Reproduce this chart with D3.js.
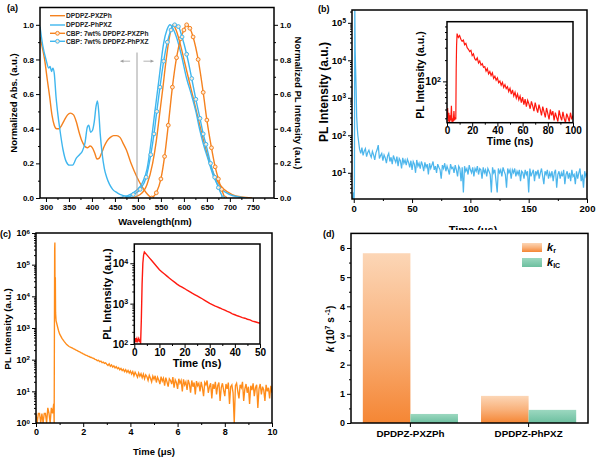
<!DOCTYPE html>
<html><head><meta charset="utf-8">
<script src="https://cdn.jsdelivr.net/npm/d3@7"></script>
<style>
body{margin:0;background:#fff}
svg{display:block}
</style></head><body>
<script>
// ================= DATA =================
// (a) absorption (left axis) and PL (right axis) — wavelength in nm, normalised values
const absPXZPhNm  = [287,292,297,303,308,313,318,323,328,334,340,347,353,360,366,372,378,384,390,396,401,406,411,416,421,427,433,440,447,454,461,467,475,485,498,508,518,525,532];
const absPXZPhVal = [0.93,0.87,0.80,0.68,0.585,0.48,0.42,0.40,0.40,0.42,0.45,0.48,0.49,0.48,0.44,0.38,0.33,0.30,0.29,0.30,0.29,0.26,0.225,0.23,0.26,0.30,0.33,0.35,0.36,0.36,0.35,0.32,0.277,0.20,0.12,0.07,0.03,0.01,0.0];
const absPhPXZNm  = [287,293,300,306,309,312,315,318,322,326,330,337,344,351,358,366,373,379,385,390,393,397,401,405,409,412,415,418,422,427,432,438,445,455,467,480,492];
const absPhPXZVal = [0.99,0.88,0.80,0.75,0.76,0.73,0.75,0.72,0.58,0.48,0.40,0.28,0.21,0.19,0.19,0.23,0.25,0.27,0.32,0.41,0.42,0.38,0.39,0.44,0.53,0.56,0.49,0.37,0.26,0.17,0.12,0.08,0.05,0.03,0.015,0.008,0.0];
const plPXZPhNm   = [485,505,520,532,540,547,554,561,568,576,583,591,601,611,621,631,640,649,660,672,687,705,725,748];
const plPXZPhVal  = [0,0.02,0.08,0.2,0.33,0.48,0.63,0.79,0.92,1.0,0.97,0.9,0.79,0.68,0.57,0.46,0.36,0.27,0.17,0.1,0.05,0.02,0.006,0];
const plPhPXZNm   = [455,475,495,510,520,528,537,546,556,563,570,576,585,595,606,616,626,634,642,653,665,682,700,720,735];
const plPhPXZVal  = [0,0.01,0.04,0.09,0.17,0.31,0.5,0.69,0.895,0.97,1.0,0.98,0.92,0.82,0.69,0.6,0.5,0.4,0.315,0.22,0.12,0.05,0.02,0.006,0];
const filmPXZPhNm  = [530,540,550,558,566,575,584,593,600,606,613,620,631,642,650,660,668,675,682,689];
const filmPXZPhVal = [0,0.03,0.11,0.24,0.42,0.64,0.81,0.92,0.97,1.0,0.98,0.93,0.8,0.61,0.45,0.29,0.18,0.11,0.05,0];
const filmPhPXZNm  = [470,490,505,518,528,535,541,548,556,564,572,580,588,596,606,617,626,635,642,648,658,667,675,685];
const filmPhPXZVal = [0,0.02,0.05,0.12,0.25,0.37,0.5,0.64,0.79,0.9,0.97,1.0,0.99,0.93,0.83,0.69,0.57,0.46,0.37,0.31,0.2,0.12,0.06,0];
const legendA = ["DPDPZ-PXZPh","DPDPZ-PhPXZ","CBP: 7wt% DPDPZ-PXZPh","CBP: 7wt% DPDPZ-PhPXZ"];
const aXTicks = [300,350,400,450,500,550,600,650,700,750];
const aYTicks = [0,0.2,0.4,0.6,0.8,1.0];

// (b) transient PL, μs (main) and ns (inset)
const bSpikeT = [-1,0,0.3,0.6,0.9,1.2,1.6,2.0,2.5,3.0,3.5,4.0,4.5];
const bSpikeI = [2,3,2,6,3e5,2e4,6e3,2e3,320,160,100,75,56];
const bNoiseStart = 5, bNoiseStep = 1;
const bNoiseI = [42,33,47,29,38,44,27,35,40,31, 26,37,30,22,34,41,55,24,29,33, 21,30,25,18,28,33,20,26,17,29,
  23,19,27,15,24,21,13,25,18,22, 16,23,19,14,21,12,20,17,10,22, 15,18,13,20,16,11,19,14,17,9,
  18,13,16,20,12,15,10,17,14,12, 7,16,13,18,11,15,12,9,17,13, 14,10,16,12,8,15,13,6,14,3,
  15,11,13,9,16,12,10,14,8,13, 11,15,9,13,12,7,14,10,12,8, 13,11,9,3,14,10,12,6,3,13,
  10,12,8,14,11,9,4,13,10,12, 7,12,10,13,8,11,9,12,6,11, 10,7,12,9,11,3,13,8,10,12,
  6,11,9,12,7,10,13,8,5,11, 9,12,7,10,8,11,6,10,12,4, 9,11,7,10,8,12,5,9,11,7,
  10,6,12,8,9,5,11,7,10,13, 6,9,4,11,8,10];
const bXTicks = [0,50,100,150,200];
const bYTicks = [10,100,1000,10000,100000];
const ibPreStart = 0, ibPreStep = 0.5;
const ibPreI = [30,42,27,36,26,33,28,45,26,30,27,38,28,31,29];
const ibRiseT = [7.3,7.6];
const ibRiseI = [150,320];
const ibDecayStart = 8, ibDecayStep = 1;
const ibDecayI = [475,420,445,395,370,385,330,345,300,285, 265,275,232,245,210,200,215,182,195,170,
  178,158,162,140,152,128,138,121,132,110, 118,104,112,96,101,88,97,82,90,79, 84,72,80,66,76,62,70,58,66,55,
  62,50,60,47,56,44,54,48,41,52, 45,38,50,42,36,47,40,33,44,37, 31,42,35,29,40,33,38,28,36,31,
  27,39,32,28,37,30,26,35,31,27, 36,29,33];
const ibXTicks = [0,20,40,60,80,100];
const ibYTicks = [100];

// (c) transient PL, μs (main) and ns (inset)
const cPreStart = 0, cPreStep = 0.05;
const cPreI = [2,1,2,2,1,2,1,2,2,1,3,2,1,3,2,4];
const cSpikeT = [0.77,0.79,0.80,0.81,0.82,0.83,0.85,0.9,0.95,1.0,1.1,1.2,1.3,1.4];
const cSpikeI = [1,3e5,5e5,2e3,4e4,3e3,1700,1200,850,650,470,370,300,260];
const cNoiseStart = 1.5, cNoiseStep = 0.05;
const cNoiseI = [240,230,218,210,199,193,183,177,167,161, 152,147,139,136,129,126,119,117,111,109,
  102,100,93,96,86,90,80,84,76,79, 72,66,74,62,68,58,64,55,60,52, 56,48,53,45,50,42,48,40,46,38,
  44,35,42,31,40,34,28,38,30,36, 27,35,25,33,29,22,32,26,20,30, 24,31,19,28,23,17,29,21,26,15,
  27,20,14,25,22,17,28,13,23,19, 12,25,18,22,10,24,16,20,11,23, 17,9,22,14,19,8,21,15,18,10,
  20,13,7,19,16,22,9,14,18,6, 17,12,20,8,15,19,5,13,18,11, 7,17,12,19,4,14,16,9,1,15,
  18,10,6,16,13,20,5,12,17,9, 14,4,15,11,18,7,13,16,3,12, 17,8,14,11,5,16,10,13,6,15, 9];
const cXTicks = [0,2,4,6,8,10];
const cYTicks = [1,10,100,1000,10000,100000,1000000];
const icPreStart = 0, icPreStep = 0.25;
const icPreI = [130,118,140,122,135,110,128,138,120,125];
const icRiseT = [2.5,2.8,3.1,3.4,3.7];
const icRiseI = [100,400,3000,10000,16000];
const icDecayStart = 4, icDecayStep = 1;
const icDecayI = [19000,16100,13600,11500,9700,8200,6900,6100,5400,4800,4250,3800,3400,3050,2750,2550,2370,2150,1980,1820,1680,1550,1430,1320,1210,1110,1010,950,885,830,780,730,690,640,605,560,530,500,475,450,435,410,395,370,355,340,325];
const icXTicks = [0,10,20,30,40,50];
const icYTicks = [100,1000,10000];

// (d) rate constants (10^7 s^-1)
const dCategories = ["DPDPZ-PXZPh","DPDPZ-PhPXZ"];
const dSeries = ["kr","kIC"];
const dKr  = [5.82,0.93];
const dKic = [0.31,0.45];
const dYTicks = [0,1,2,3,4,5,6];

// ================= DRAW =================
const F = '"Liberation Sans", Arial, Helvetica, sans-serif';
const ORANGE = "#f5821f", BLUE = "#3fb6ee", RED = "#ff1a10";
const svg = d3.select("body").append("svg").attr("width",600).attr("height",460)
  .style("font-family",F).style("font-weight","bold");
const defs = svg.append("defs");
function clip(id,x0,y0,x1,y1){defs.append("clipPath").attr("id",id).append("rect")
  .attr("x",x0).attr("y",y0).attr("width",x1-x0).attr("height",y1-y0);return `url(#${id})`;}
function frame(g,x0,y0,x1,y1){g.append("rect").attr("x",x0).attr("y",y0).attr("width",x1-x0).attr("height",y1-y0)
  .attr("fill","none").attr("stroke","#000").attr("stroke-width",1.5);}
function label(g,txt,x,y,fs,rot,anchor){
  const t=g.append("text").attr("x",0).attr("y",0).attr("font-size",fs).attr("text-anchor",anchor||"middle")
   .attr("fill","#000").attr("transform",`translate(${x},${y})`+(rot?` rotate(${rot})`:"")).text(txt);return t;}
const gens={bottom:d3.axisBottom,left:d3.axisLeft,right:d3.axisRight};
function axis(g,type,scale,tr,majors,minors,fmt,fs,pad){
  if(minors&&minors.length){
    const gm=g.append("g").attr("transform",tr).call(gens[type](scale).tickValues(minors).tickSize(2).tickFormat(""));
    gm.select(".domain").remove(); gm.selectAll("line").attr("stroke","#000");
  }
  const gM=g.append("g").attr("transform",tr).call(gens[type](scale).tickValues(majors).tickSize(4).tickPadding(pad==null?2:pad).tickFormat(fmt));
  gM.select(".domain").remove(); gM.selectAll("line").attr("stroke","#000");
  gM.selectAll("text").attr("font-size",fs).attr("font-family",F).attr("font-weight","bold").attr("fill","#000");
  return gM;
}
function powLabels(gM){
  gM.selectAll("text").each(function(d){const t=d3.select(this);t.text("");
    t.append("tspan").text("10");
    t.append("tspan").attr("dy","-0.45em").attr("font-size","0.68em").text(Math.round(Math.log10(d)));});
}
function logMinors(lo,hi){const out=[];for(let e=Math.floor(Math.log10(lo));e<=Math.ceil(Math.log10(hi));e++)
  for(let m=2;m<=9;m++){const v=m*Math.pow(10,e);if(v>lo&&v<hi)out.push(v);}return out;}
const seq=(start,step,n)=>d3.range(n).map(i=>+(start+i*step).toFixed(4));

// ---------- (a) ----------
{
  const g=svg.append("g");
  const x=d3.scaleLinear().domain([287,796]).range([40,274]);
  const y=d3.scaleLinear().domain([0,1.1]).range([198,7.5]);
  const cp=clip("ca",40,7.5,274,198);
  const line=d3.line().x(d=>x(d[0])).y(d=>y(d[1])).curve(d3.curveMonotoneX);
  const pd=g.append("g").attr("clip-path",cp);
  const series=[
    [absPXZPhNm,absPXZPhVal,ORANGE,false],[absPhPXZNm,absPhPXZVal,BLUE,false],
    [plPXZPhNm,plPXZPhVal,ORANGE,false],[plPhPXZNm,plPhPXZVal,BLUE,false],
    [filmPXZPhNm,filmPXZPhVal,ORANGE,true],[filmPhPXZNm,filmPhPXZVal,BLUE,true]];
  series.forEach(([nm,v,c,mk])=>{
    const pts=nm.map((n,i)=>[n,v[i]]);
    pd.append("path").attr("d",line(pts)).attr("fill","none").attr("stroke",c).attr("stroke-width",1.4);
    if(mk) pd.selectAll(null).data(pts).enter().append("circle").attr("cx",d=>x(d[0])).attr("cy",d=>y(d[1]))
      .attr("r",1.9).attr("fill","#fde9d6").attr("stroke",c).attr("stroke-width",1);
  });
  const gray="#a0a0a0";
  g.append("line").attr("x1",x(498)).attr("x2",x(498)).attr("y1",y(0.84)).attr("y2",y(0)).attr("stroke",gray).attr("stroke-width",1);
  [[483,462],[512,534]].forEach(([a,b])=>{
    g.append("line").attr("x1",x(a)).attr("x2",x(b)).attr("y1",y(0.79)).attr("y2",y(0.79)).attr("stroke",gray).attr("stroke-width",0.8);
    const s=Math.sign(x(b)-x(a));
    g.append("path").attr("d",`M${x(b)},${y(0.79)} l${-s*3},-1.6 l0,3.2 z`).attr("fill",gray);
  });
  axis(g,"bottom",x,"translate(0,198)",aXTicks,aXTicks.map(v=>v+25),d3.format("d"),8);
  axis(g,"left",y,"translate(40,0)",aYTicks,[0.1,0.3,0.5,0.7,0.9],d3.format(".1f"),8);
  axis(g,"right",y,"translate(274,0)",aYTicks,[0.1,0.3,0.5,0.7,0.9],d3.format(".1f"),8);
  frame(g,40,7.5,274,198);
  const colors=[ORANGE,BLUE,ORANGE,BLUE], ly=[15.7,25,33.3,41.3];
  legendA.forEach((t,i)=>{
    g.append("line").attr("x1",50).attr("x2",65).attr("y1",ly[i]).attr("y2",ly[i]).attr("stroke",colors[i]).attr("stroke-width",1.4);
    if(i>1) g.append("circle").attr("cx",57.5).attr("cy",ly[i]).attr("r",1.9).attr("fill","#fde9d6").attr("stroke",colors[i]);
    g.append("text").attr("x",66).attr("y",ly[i]+2.3).attr("font-size",6.6).attr("fill","#222").text(t);
  });
  label(g,"Normalized Abs. (a.u.)",17,103,9.5,-90);
  label(g,"Normalized PL Intensity (a.u.)",295,103,9.5,90);
  label(g,"Wavelength(nm)",155,225,9.5);
  label(g,"(a)",7,11,9,0,"start");
}

// ---------- (b) ----------
{
  const g=svg.append("g");
  const x=d3.scaleLinear().domain([-1.5,200]).range([352,587]);
  const y=d3.scaleLog().domain([2,2.2e5]).range([199,10]);
  const cp=clip("cb",352,10,587,199);
  const pts=bSpikeT.map((t,i)=>[t,bSpikeI[i]]).concat(seq(bNoiseStart,bNoiseStep,bNoiseI.length).map((t,i)=>[t,bNoiseI[i]]));
  const line=d3.line().x(d=>x(d[0])).y(d=>y(d[1]));
  g.append("path").attr("clip-path",cp).attr("d",line(pts)).attr("fill","none").attr("stroke","#4db6ec").attr("stroke-width",1.25);
  axis(g,"bottom",x,"translate(0,199)",bXTicks,[25,75,125,175],d3.format("d"),9.5);
  powLabels(axis(g,"left",y,"translate(352,0)",bYTicks,logMinors(2,2.2e5),d=>d,9.5));
  frame(g,352,10,587,199);
  label(g,"PL Intensity (a.u.)",328,92,12,-90);
  label(g,"(b)",318,12,9,0,"start");
  label(g,"Time (\u03bcs)",473,234,11);
  // inset
  const ix=d3.scaleLinear().domain([0,100]).range([447,573]);
  const iy=d3.scaleLog().domain([26,700]).range([122.7,21.7]);
  g.append("rect").attr("x",447).attr("y",21.7).attr("width",126).attr("height",101).attr("fill","#fff");
  const icp=clip("cbi",447,21.7,573,122.7);
  const ipts=seq(ibPreStart,ibPreStep,ibPreI.length).map((t,i)=>[t,ibPreI[i]])
    .concat(ibRiseT.map((t,i)=>[t,ibRiseI[i]]))
    .concat(seq(ibDecayStart,ibDecayStep,ibDecayI.length).map((t,i)=>[t,ibDecayI[i]]));
  const iline=d3.line().x(d=>ix(d[0])).y(d=>iy(d[1]));
  g.append("path").attr("clip-path",icp).attr("d",iline(ipts)).attr("fill","none").attr("stroke",RED).attr("stroke-width",1.2);
  axis(g,"bottom",ix,"translate(0,122.7)",ibXTicks,[10,30,50,70,90],d3.format("d"),10,0);
  powLabels(axis(g,"left",iy,"translate(447,0)",ibYTicks,[30,40,50,60,70,80,90,200,300,400,500,600],d=>d,10.5));
  frame(g,447,21.7,573,122.7);
  label(g,"PL Intensity (a.u.)",424,75,10.5,-90);
  label(g,"Time (ns)",510,145,10.5);
}

// ---------- (c) ----------
{
  const g=svg.append("g");
  const x=d3.scaleLinear().domain([0,10]).range([36,272]);
  const y=d3.scaleLog().domain([1,1e6]).range([423,233]);
  const cp=clip("cc",36,233,272,423);
  const pts=seq(cPreStart,cPreStep,cPreI.length).map((t,i)=>[t,cPreI[i]])
    .concat(cSpikeT.map((t,i)=>[t,cSpikeI[i]]))
    .concat(seq(cNoiseStart,cNoiseStep,cNoiseI.length).map((t,i)=>[t,cNoiseI[i]]));
  const line=d3.line().x(d=>x(d[0])).y(d=>y(d[1]));
  g.append("path").attr("clip-path",cp).attr("d",line(pts)).attr("fill","none").attr("stroke","#ff8c1a").attr("stroke-width",1.35);
  axis(g,"bottom",x,"translate(0,423)",cXTicks,[1,3,5,7,9],d3.format("d"),9);
  powLabels(axis(g,"left",y,"translate(36,0)",cYTicks,logMinors(1,1e6),d=>d,9));
  frame(g,36,233,272,423);
  label(g,"PL Intensity (a.u.)",11,329,9.8,-90);
  label(g,"Time (\u03bcs)",154,455,9.5);
  // inset
  const ix=d3.scaleLinear().domain([0,50]).range([134.3,260]);
  const iy=d3.scaleLog().domain([100,3e4]).range([344,244]);
  g.append("rect").attr("x",134.3).attr("y",244).attr("width",125.7).attr("height",100).attr("fill","#fff");
  const icp=clip("cci",134.3,244,260,344);
  const ipts=seq(icPreStart,icPreStep,icPreI.length).map((t,i)=>[t,icPreI[i]])
    .concat(icRiseT.map((t,i)=>[t,icRiseI[i]]))
    .concat(seq(icDecayStart,icDecayStep,icDecayI.length).map((t,i)=>[t,icDecayI[i]]));
  const iline=d3.line().x(d=>ix(d[0])).y(d=>iy(d[1]));
  g.append("path").attr("clip-path",icp).attr("d",iline(ipts)).attr("fill","none").attr("stroke",RED).attr("stroke-width",1.4);
  axis(g,"bottom",ix,"translate(0,344)",icXTicks,[5,15,25,35,45],d3.format("d"),10,1);
  powLabels(axis(g,"left",iy,"translate(134.3,0)",icYTicks,logMinors(100,3e4),d=>d,10.5));
  frame(g,134.3,244,260,344);
  label(g,"PL Intensity (a.u.)",111,294,11,-90);
  label(g,"Time (ns)",197,367,11);
  label(g,"(c)",0,237,9,0,"start");
}

// ---------- (d) ----------
{
  svg.append("rect").attr("x",300).attr("y",230).attr("width",300).attr("height",230).attr("fill","#fff");
  const g=svg.append("g");
  const gO=defs.append("linearGradient").attr("id","gOr").attr("x1",0).attr("y1",0).attr("x2",0).attr("y2",1);
  gO.append("stop").attr("offset",0).attr("stop-color","#fcd6b6");
  gO.append("stop").attr("offset",0.5).attr("stop-color","#f9b27c");
  gO.append("stop").attr("offset",1).attr("stop-color","#f58634");
  const gT=defs.append("linearGradient").attr("id","gTe").attr("x1",0).attr("y1",0).attr("x2",0).attr("y2",1);
  gT.append("stop").attr("offset",0).attr("stop-color","#9cd8c0");
  gT.append("stop").attr("offset",1).attr("stop-color","#6cbf9f");
  const fills={kr:"url(#gOr)",kIC:"url(#gTe)"};
  const x0=d3.scaleBand().domain(dCategories).range([351,588]).paddingInner(0.195).paddingOuter(0.1);
  const x1=d3.scaleBand().domain(dSeries).range([0,x0.bandwidth()]);
  const y=d3.scaleLinear().domain([0,6.5]).range([423,233.4]);
  const vals={kr:dKr,kIC:dKic};
  dCategories.forEach((c,ci)=>{
    dSeries.forEach(s=>{
      const v=vals[s][ci];
      g.append("rect").attr("x",x0(c)+x1(s)).attr("width",x1.bandwidth()).attr("y",y(v)).attr("height",y(0)-y(v)).attr("fill",fills[s]);
    });
  });
  axis(g,"bottom",x0,"translate(0,423)",dCategories,[],d=>d,9.8,3);
  axis(g,"left",y,"translate(351,0)",dYTicks,[0.5,1.5,2.5,3.5,4.5,5.5],d3.format("d"),9);
  frame(g,351,233.4,588,423);
  [["kr","r",247.5],["kIC","IC",262.5]].forEach(([s,sub,cy])=>{
    g.append("rect").attr("x",522).attr("y",cy-4.5).attr("width",20).attr("height",9).attr("fill",fills[s]);
    const t=g.append("text").attr("x",547).attr("y",cy+3).attr("font-size",11).attr("fill","#000");
    t.append("tspan").attr("font-style","italic").text("k");
    t.append("tspan").attr("dy",2.5).attr("font-size",7).text(sub);
  });
  const t=g.append("text").attr("transform","translate(334,329) rotate(-90)").attr("text-anchor","middle").attr("font-size",10).attr("fill","#000");
  t.append("tspan").attr("font-style","italic").text("k");
  t.append("tspan").text(" (10");
  t.append("tspan").attr("dy",-4).attr("font-size",7).text("7");
  t.append("tspan").attr("dy",4).text(" s");
  t.append("tspan").attr("dy",-4).attr("font-size",7).text(" -1");
  t.append("tspan").attr("dy",4).text(")");
  label(g,"(d)",323,237,9,0,"start");
}
</script>
</body></html>
